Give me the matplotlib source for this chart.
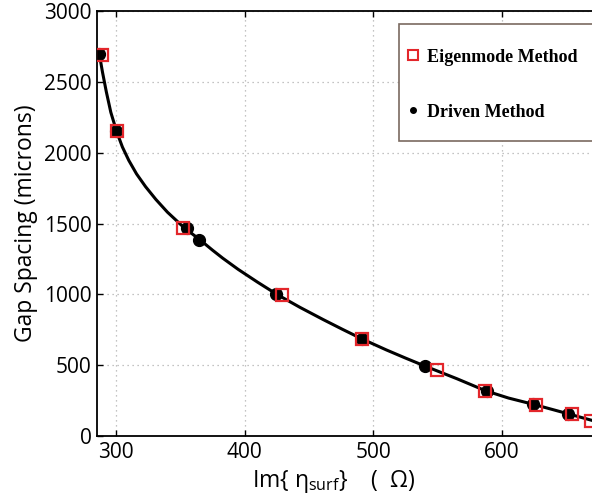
import numpy as np
import matplotlib as mpl
mpl.use('Agg')
import matplotlib.pyplot as plt
from matplotlib.lines import Line2D
from matplotlib.patches import Rectangle

# Values
eig_x = [288.9, 300.5, 351.8, 429.2, 491.0, 549.1, 587.0, 626.1, 654.3, 668.8]
eig_y = [2690, 2150, 1467, 998, 686, 465, 318, 220, 153, 108]
drv_x = [287.1, 300.0, 354.9, 364.7, 424.3, 491.0, 540.1, 588.5, 624.3, 651.4]
drv_y = [2700, 2150, 1467, 1387, 1000, 686, 495, 319, 225, 153]
# traced path of the black guide curve
curve_x = [287.0, 289.5, 292.5, 296.0, 300.5, 305.0, 310.0, 316.0, 323.0, 331.0,
           340.0, 353.0, 365.0, 375.0, 383.0, 395.0, 410.0, 425.0, 443.0, 461.0,
           476.0, 491.0, 510.0, 525.0, 540.0, 550.0, 565.0, 587.0, 605.0, 625.0,
           640.0, 652.0, 662.0, 670.0, 680.0]
curve_y = [2700, 2570, 2430, 2285, 2150, 2040, 1945, 1850, 1760, 1670,
           1580, 1470, 1387, 1312, 1255, 1176, 1086, 1000, 908, 822,
           753, 686, 608, 550, 494, 458, 404, 320, 268, 222,
           185, 155, 130, 110, 88]
x_ticks = [300, 400, 500, 600]
y_ticks = [0, 500, 1000, 1500, 2000, 2500, 3000]

plt.rcParams['font.family'] = ['Open Sans', 'DejaVu Sans']
plt.rcParams['mathtext.default'] = 'regular'

W, H = 592, 504
fig = plt.figure(figsize=(W / 100, H / 100), dpi=100)
ax = fig.add_axes([97.3 / W, 68 / H, (605 - 97.3) / W, 425 / H])

red = '#e3262b'
ax.plot(curve_x, curve_y, color='black', lw=2.2, zorder=2)
ax.plot(drv_x, drv_y, 'o', color='black', ms=8.5, zorder=3)
ax.plot(eig_x, eig_y, 's', mfc='none', mec=red, mew=1.6, ms=8.5, zorder=4)

ax.set_xlim(285.5, 680)
ax.set_ylim(0, 3000)
ax.set_xticks(x_ticks)
ax.set_yticks(y_ticks)
ax.grid(True, linestyle=(0, (1, 3)), color='#b0b0b0', lw=0.9)
ax.tick_params(direction='in', top=True, right=True, length=4, width=1,
               labelsize=15, pad=4)
for s in ax.spines.values():
    s.set_linewidth(1.3)

ax.set_xlabel('Im{ \u03b7$_{surf}$}    (  \u03a9)', fontsize=16.5, labelpad=0)
ax.xaxis.set_label_coords(0.466, -0.075)
ax.set_ylabel('Gap Spacing (microns)', fontsize=16.5, labelpad=4)

# legend box, drawn in figure pixels
fig.patches.append(Rectangle((399 / W, 1 - 141 / H), 200 / W, 117 / H,
                             transform=fig.transFigure, facecolor='white',
                             edgecolor='#7a6a60', lw=1.2, zorder=5))
handles = [Line2D([], [], ls='none', marker='s', mfc='none', mec=red, mew=1.5, ms=7),
           Line2D([], [], ls='none', marker='o', color='black', ms=4)]
leg = fig.legend(handles, ['Eigenmode Method', 'Driven Method'],
                 loc='upper left', bbox_to_anchor=(403 / W, 1 - 45 / H),
                 bbox_transform=fig.transFigure, borderaxespad=0,
                 prop={'family': 'Liberation Serif', 'weight': 'bold', 'size': 13},
                 handlelength=0.75, handletextpad=0.4, labelspacing=2.1,
                 borderpad=0.2, frameon=False)
leg.set_zorder(6)

fig.savefig('out.png', dpi=100)
